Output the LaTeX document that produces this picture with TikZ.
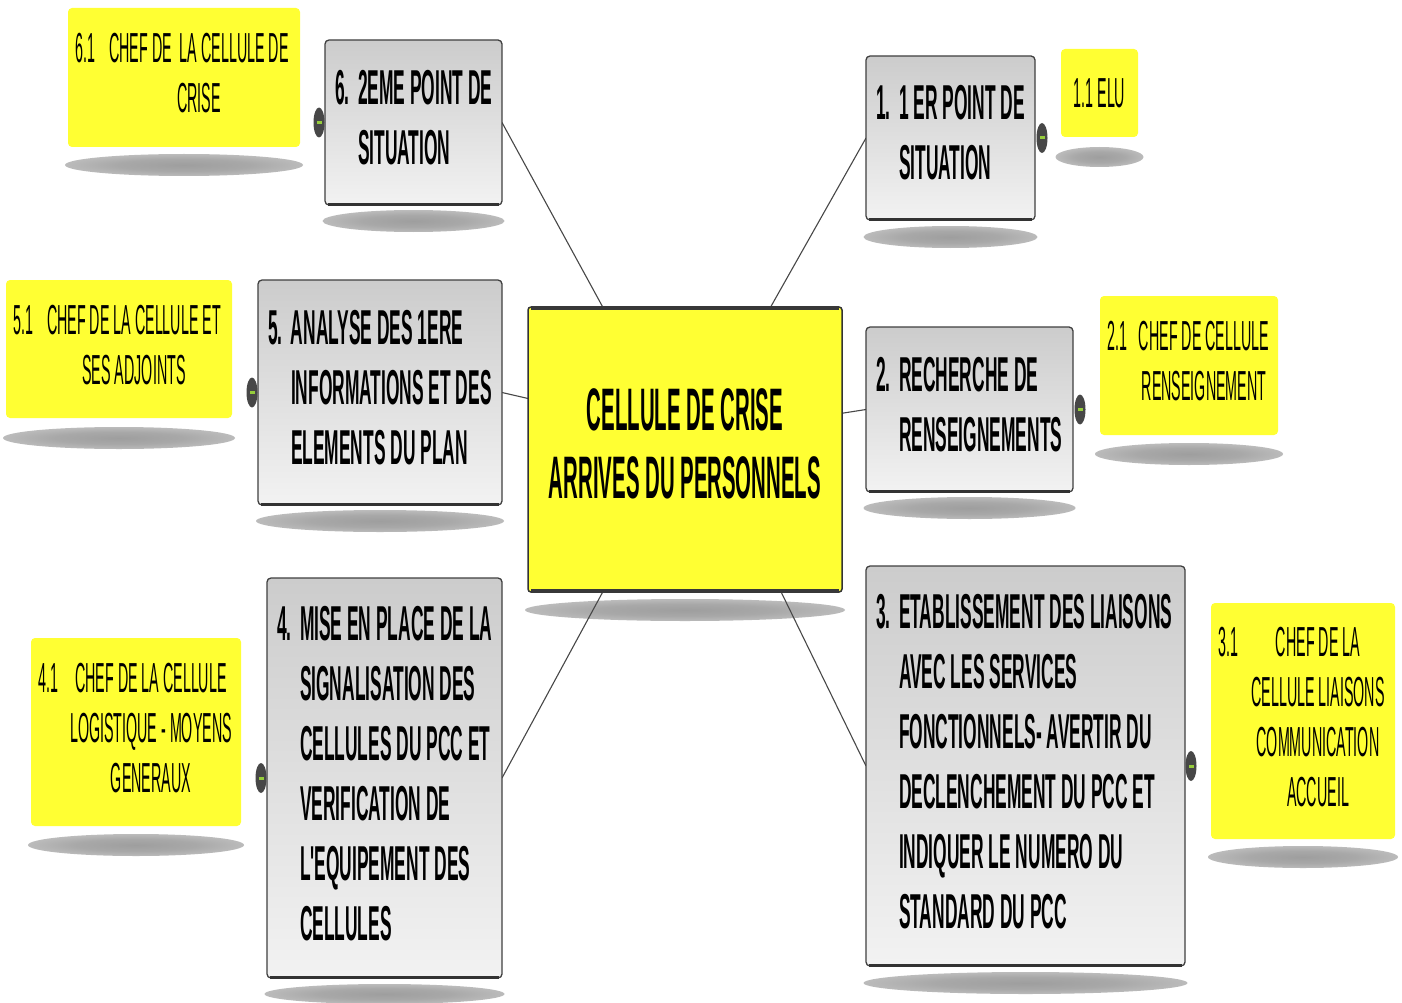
\documentclass[tikz,border=0pt]{standalone}
\usepackage{fontspec}
\usepackage{array}
\newfontfamily\grayfont{Liberation Sans}[FakeStretch=0.355]
\newfontfamily\ctrfont{Liberation Sans}[FakeStretch=0.34]
\newfontfamily\ylwfont{Liberation Sans}[FakeStretch=0.34]
\usetikzlibrary{shapes.geometric}
\definecolor{boxyellow}{RGB}{255,255,51}
\definecolor{dotgreen}{RGB}{150,205,60}
\pgfdeclareradialshading{softshadow}{\pgfpoint{0bp}{0bp}}{color(0bp)=(black!38); color(14bp)=(black!34); color(32bp)=(black!22); color(50bp)=(white); color(100bp)=(white)}
\pgfdeclarelayer{shadowlayer}
\pgfdeclarelayer{connlayer}
\pgfsetlayers{shadowlayer,connlayer,main}
\newcommand{\gtab}[1]{\spaceskip=0pt\xspaceskip=0pt\begin{tabular}{@{}p{23pt}@{}l@{}}#1\end{tabular}}
\newcommand{\ytab}[2]{\spaceskip=0pt\xspaceskip=0pt\begin{tabular}{@{}p{30pt}@{}>{\centering\arraybackslash}p{#1}@{}}#2\end{tabular}}
\tikzset{
  graybox/.style={draw=black!75, line width=1.3pt, rounded corners=4pt,
    top color=black!20, bottom color=black!5, anchor=north west,
    inner xsep=10pt, inner ysep=0pt, outer sep=0pt, align=left,
    font=\grayfont\bfseries\fontsize{49}{60}\selectfont},
  yellowbox/.style={fill=boxyellow, rounded corners=4pt, anchor=north west,
    inner xsep=7.5pt, inner ysep=0pt, outer sep=0pt, align=left,
    font=\ylwfont\fontsize{42}{50}\selectfont},
  centerbox/.style={draw=black!80, line width=1.5pt, fill=boxyellow, rounded corners=3pt,
    anchor=north west, outer sep=0pt, align=center,
    font=\ctrfont\bfseries\fontsize{60}{68}\selectfont},
  connector/.style={draw=black!72, line width=1.1pt},
  knob/.style={ellipse, fill=black!72, minimum width=11pt, minimum height=30pt, inner sep=0pt,
    path picture={\fill[dotgreen] ([xshift=-2.5pt,yshift=-1.5pt]path picture bounding box.center) rectangle ++(5pt,3pt);}},
  softshade/.style={shading=softshadow},
  edgebar/.style={line width=2.4pt, black!80}
}
\begin{document}
\begin{tikzpicture}[x=1pt,y=-1pt]
\useasboundingbox (0,0) rectangle (1402,1003);
\begin{pgfonlayer}{shadowlayer}
\fill[white] (0,0) rectangle (1402,1003);
\end{pgfonlayer}

% central node
\node[centerbox, minimum width=314pt, minimum height=285pt] (c) at (528,307) {CELLULE DE CRISE\\ARRIVES DU PERSONNELS\\[-56pt]\mbox{}};

% gray boxes
\node[graybox, text width=157pt, minimum height=165pt] (b6) at (325,40) {\gtab{6.&2EME POINT DE\\&SITUATION}};
\node[graybox, text width=149pt, minimum height=164pt] (b1) at (866,56) {\gtab{1.&1 ER POINT DE\\&SITUATION}};
\node[graybox, text width=224pt, minimum height=225pt] (b5) at (258,280) {\gtab{5.&ANALYSE DES 1ERE\\&INFORMATIONS ET DES\\&ELEMENTS DU PLAN}};
\node[graybox, text width=187pt, minimum height=165pt] (b2) at (866,327) {\gtab{2.&RECHERCHE DE\\&RENSEIGNEMENTS}};
\node[graybox, text width=215pt, minimum height=400pt] (b4) at (267,578) {\gtab{4.&MISE EN PLACE DE LA\\&SIGNALISATION DES\\&CELLULES DU PCC ET\\&VERIFICATION DE\\&L'EQUIPEMENT DES\\&CELLULES}};
\node[graybox, text width=299pt, minimum height=400pt] (b3) at (866,566) {\gtab{3.&ETABLISSEMENT DES LIAISONS\\&AVEC LES SERVICES\\&FONCTIONNELS- AVERTIR DU\\&DECLENCHEMENT DU PCC ET\\&INDIQUER LE NUMERO DU\\&STANDARD DU PCC}};

% yellow boxes
\node[yellowbox, text width=217pt, minimum height=139pt] (y61) at (68,8) {\ytab{187pt}{6.1&CHEF DE\ \ LA CELLULE DE\\&CRISE}};
\node[yellowbox, minimum width=77pt, minimum height=88pt] (y11) at (1061,49) {1.1 ELU};
\node[yellowbox, text width=211pt, minimum height=138pt] (y51) at (6,280) {\ytab{181pt}{5.1&CHEF DE LA CELLULE ET\\&SES ADJOINTS}};
\node[yellowbox, text width=163pt, minimum height=139pt] (y21) at (1100,296) {\ytab{133pt}{2.1&CHEF DE CELLULE\\&RENSEIGNEMENT}};
\node[yellowbox, text width=195pt, minimum height=188pt] (y41) at (31,638) {\ytab{165pt}{4.1&CHEF DE LA CELLULE\\&LOGISTIQUE - MOYENS\\&GENERAUX}};
\node[yellowbox, text width=169pt, minimum height=236pt] (y31) at (1211,603) {\ytab{139pt}{3.1&CHEF DE LA\\&CELLULE LIAISONS\\&COMMUNICATION\\&ACCUEIL}};

% thicker lower edges
\foreach \n in {b1,b2,b3,b4,b5,b6}{
  \draw[edgebar] ([xshift=3pt,yshift=0.6pt]\n.south west) -- ([xshift=-3pt,yshift=0.6pt]\n.south east);
}
\draw[line width=4pt, black!78] ([xshift=3pt,yshift=-1pt]c.north west) -- ([xshift=-3pt,yshift=-1pt]c.north east);
\draw[line width=4pt, black!78] ([xshift=3pt,yshift=1pt]c.south west) -- ([xshift=-3pt,yshift=1pt]c.south east);

% knobs
\node[knob] (k6) at ([xshift=-6pt]b6.west) {};
\node[knob] (k1) at ([xshift=7pt]b1.east) {};
\node[knob] (k5) at ([xshift=-6pt]b5.west) {};
\node[knob] (k2) at ([xshift=7pt]b2.east) {};
\node[knob] (k4) at ([xshift=-6pt]b4.west) {};
\node[knob] (k3) at ([xshift=6pt]b3.east) {};

% connectors
\begin{pgfonlayer}{connlayer}
\draw[connector] (c.120) -- (b6.east);
\draw[connector] (c.59) -- (b1.west);
\draw[connector] (c.162) -- (b5.east);
\draw[connector] (c.13) -- (b2.west);
\draw[connector] (c.240) -- (b4.east);
\draw[connector] (c.304) -- (b3.west);
\end{pgfonlayer}

% shadows
\begin{pgfonlayer}{shadowlayer}
\shade[softshade] ([yshift=-18pt]c.south) ellipse [x radius=160pt, y radius=11pt];
\shade[softshade] ([yshift=-16pt]b6.south) ellipse [x radius=91pt, y radius=11pt];
\shade[softshade] ([yshift=-17pt]b1.south) ellipse [x radius=87pt, y radius=11pt];
\shade[softshade] ([yshift=-16pt]b5.south) ellipse [x radius=124pt, y radius=11pt];
\shade[softshade] ([yshift=-16pt]b2.south) ellipse [x radius=106pt, y radius=11pt];
\shade[softshade] ([yshift=-16pt]b4.south) ellipse [x radius=120pt, y radius=10pt];
\shade[softshade] ([yshift=-17pt]b3.south) ellipse [x radius=162pt, y radius=11pt];
\shade[softshade] ([yshift=-18pt]y61.south) ellipse [x radius=119pt, y radius=11pt];
\shade[softshade] ([yshift=-20pt]y11.south) ellipse [x radius=44pt, y radius=10pt];
\shade[softshade] ([yshift=-20pt]y51.south) ellipse [x radius=116pt, y radius=11pt];
\shade[softshade] ([yshift=-19pt]y21.south) ellipse [x radius=94pt, y radius=11pt];
\shade[softshade] ([yshift=-19pt]y41.south) ellipse [x radius=108pt, y radius=11pt];
\shade[softshade] ([yshift=-18pt]y31.south) ellipse [x radius=95pt, y radius=11pt];
\end{pgfonlayer}
\end{tikzpicture}
\end{document}
